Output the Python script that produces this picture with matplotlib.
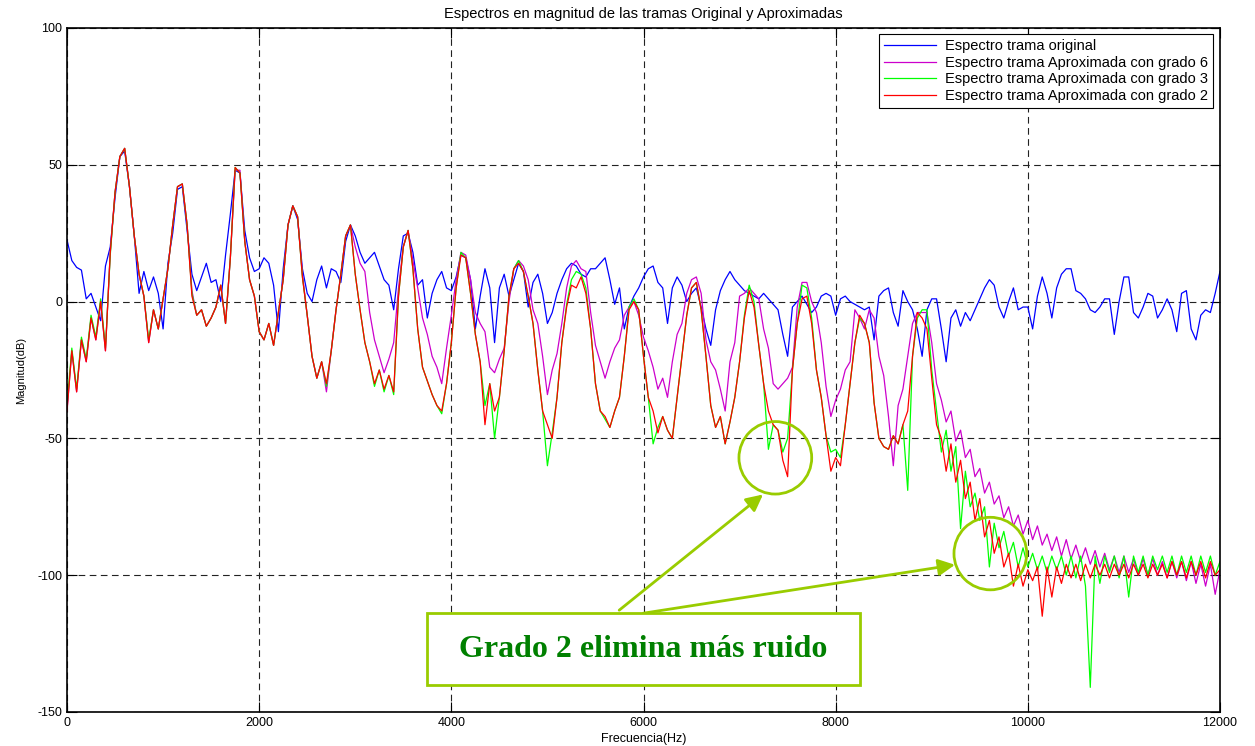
import numpy as np
import matplotlib
matplotlib.use("Agg")
from matplotlib import pyplot as plt
from matplotlib.patches import Ellipse, Rectangle

plt.rcParams['font.family'] = ['Liberation Sans', 'DejaVu Sans']
plt.rcParams['axes.unicode_minus'] = False

# frecuencias muestreadas cada 50 Hz (0 .. 12000)
frec = np.arange(0, 12001, 50)

# espectro trama original (dB)
orig_db = [22.5, 15, 12.5, 11.5, 1, 3, -2, -7, 13, 20,
           38, 53, 55, 42, 24, 3, 11, 4, 9, 3,
           -10, 14, 25, 41, 42, 26, 10, 4, 9, 14,
           7, 8, 0, 17, 32, 48, 47, 26, 16, 11,
           12, 16, 14, 6, -11, 12, 28, 35, 30, 12,
           3, 0, 8, 13, 5, 12, 11, 7, 22, 28,
           24, 18, 14, 16, 18, 13, 8, 6, -3, 12,
           24, 25, 18, 6, 8, -6, 3, 8, 11, 5,
           4, 9, 17, 16, 8, -10, 2, 12, 5, -15,
           5, 10, 2, 8, 14, 11, -2, 7, 10, 3,
           -8, -4, 3, 8, 12, 14, 13, 10, 9, 12,
           12, 14, 16, 8, -1, 5, -10, -2, 2, 5,
           9, 12, 13, 7, 5, -8, 5, 9, 6, 0,
           3, 5, -2, -10, -16, -3, 4, 8, 11, 8,
           6, 4, 3, 2, 1, 3, 1, -1, -3, -12,
           -20, -2, 0, 2, -1, -4, -2, 2, 3, 2,
           -5, 1, 2, 0, -1, -2, -3, -2, -14, 2,
           4, 5, -4, -9, 4, 0, -3, -10, -20, -3,
           1, 1, -10, -22, -6, -3, -9, -4, -7, -3,
           1, 5, 8, 6, -2, -6, 0, 5, -3, -2,
           -2, -10, 2, 9, 3, -6, 5, 10, 12, 12,
           4, 3, 1, -3, -4, -2, 1, 1, -12, 0,
           9, 9, -4, -6, -2, 3, 2, -6, -3, 1,
           -3, -11, 3, 4, -10, -14, -5, -3, -4, 3,
           11]

# aproximada con grado 6
g6_db = [-40, -18, -33, -14, -22, -6, -14, 0, -18, 18,
         40, 53, 56, 42, 24, 10, 2, -15, -3, -10,
         1, 12, 28, 42, 43, 28, 4, -5, -3, -9,
         -6, -2, 6, -8, 16, 48, 48, 22, 8, 2,
         -11, -14, -8, -16, -4, 8, 28, 35, 31, 10,
         -5, -20, -28, -22, -33, -18, -3, 10, 24, 28,
         20, 14, 11, -4, -14, -20, -26, -21, -15, 5,
         20, 26, 15, 5, -6, -12, -20, -24, -30, -17,
         -5, 8, 18, 17, 8, -4, -8, -11, -24, -26,
         -21, -17, 0, 12, 15, 13, 8, -3, -8, -20,
         -34, -25, -19, -8, 5, 13, 15, 12, 11, -4,
         -16, -22, -28, -22, -17, -14, -5, -2, 0, -5,
         -13, -18, -24, -32, -28, -35, -22, -12, -8, 3,
         8, 9, 3, -14, -22, -25, -32, -40, -22, -15,
         2, 3, 5, 3, 1, -10, -17, -30, -32, -30,
         -28, -24, -2, 7, 7, 0, -4, -15, -31, -42,
         -36, -32, -25, -22, -3, -6, -10, -3, -6, -20,
         -27, -42, -60, -38, -32, -20, -8, -4, -4, -4,
         -15, -30, -36, -44, -40, -51, -47, -57, -54, -64,
         -61, -70, -66, -74, -71, -79, -75, -82, -78, -85,
         -80, -87, -82, -89, -85, -91, -86, -93, -87, -94,
         -89, -95, -90, -96, -91, -97, -92, -98, -93, -99,
         -93, -99, -94, -100, -94, -100, -94, -100, -95, -101,
         -95, -101, -95, -102, -95, -103, -96, -104, -96, -107,
         -98]

# aproximada con grado 3
g3_db = [-38, -17, -32, -13, -21, -5, -13, 1, -17, 17,
         40, 53, 56, 42, 24, 10, 2, -14, -3, -10,
         1, 12, 28, 42, 43, 28, 3, -5, -3, -9,
         -6, -2, 6, -8, 16, 49, 47, 22, 8, 2,
         -11, -14, -8, -16, -4, 8, 28, 35, 31, 9,
         -5, -20, -28, -22, -31, -18, -3, 10, 24, 28,
         10, -3, -15, -22, -31, -25, -33, -27, -34, 2,
         20, 26, 12, -10, -24, -29, -34, -38, -41, -30,
         -15, 5, 18, 16, 3, -12, -22, -38, -30, -50,
         -35, -18, 2, 12, 15, 11, 2, -8, -25, -40,
         -60, -48, -35, -15, -1, 8, 11, 10, 5, -10,
         -30, -40, -43, -46, -40, -35, -20, -2, 1, -3,
         -20, -35, -52, -46, -42, -47, -50, -35, -20, -5,
         5, 7, -3, -20, -38, -46, -42, -52, -44, -35,
         -22, -5, 6, 0, -16, -30, -54, -45, -47, -55,
         -50, -25, -8, 6, 5, -6, -25, -35, -49, -55,
         -54, -57, -45, -30, -15, -6, -8, -15, -37, -50,
         -53, -54, -49, -52, -45, -69, -20, -6, -3, -3,
         -25, -40, -55, -47, -62, -53, -83, -62, -75, -70,
         -80, -75, -97, -81, -90, -84, -93, -88, -97, -90,
         -97, -92, -98, -93, -99, -93, -98, -93, -100, -93,
         -101, -93, -104, -141, -93, -103, -93, -99, -93, -101,
         -93, -108, -93, -99, -93, -100, -93, -98, -93, -99,
         -93, -100, -93, -99, -93, -100, -93, -99, -93, -100,
         -95]

# aproximada con grado 2
g2_db = [-40, -18, -33, -14, -22, -6, -14, 0, -18, 18,
         40, 53, 56, 42, 24, 10, 2, -15, -3, -10,
         1, 12, 28, 42, 43, 28, 2, -5, -3, -9,
         -6, -2, 6, -8, 16, 49, 47, 22, 8, 2,
         -11, -14, -8, -16, -4, 8, 28, 35, 31, 9,
         -5, -20, -28, -22, -30, -18, -3, 10, 24, 28,
         10, -3, -15, -22, -30, -25, -32, -27, -33, 2,
         20, 26, 12, -10, -24, -29, -34, -38, -40, -30,
         -15, 5, 17, 16, 3, -12, -22, -45, -30, -40,
         -35, -18, 2, 12, 14, 11, 2, -8, -25, -40,
         -45, -50, -35, -15, -2, 6, 5, 9, 3, -10,
         -30, -40, -42, -46, -40, -35, -20, -3, 0, -3,
         -20, -35, -40, -48, -42, -47, -50, -35, -20, -5,
         5, 7, -3, -20, -38, -46, -42, -52, -44, -35,
         -22, -6, 4, -2, -16, -30, -40, -45, -47, -58,
         -64, -25, -8, 1, 2, -8, -25, -35, -49, -62,
         -57, -60, -45, -30, -15, -5, -8, -15, -37, -50,
         -53, -54, -49, -52, -45, -40, -20, -4, -6, -10,
         -28, -45, -50, -62, -52, -66, -58, -72, -66, -80,
         -72, -86, -80, -92, -86, -97, -92, -104, -96, -104,
         -98, -102, -97, -115, -97, -108, -97, -103, -96, -101,
         -96, -102, -96, -101, -96, -100, -96, -101, -96, -100,
         -96, -101, -96, -100, -96, -101, -96, -100, -96, -101,
         -95, -100, -95, -101, -95, -100, -95, -101, -95, -100,
         -98]

lime = '#99cc00'

fig = plt.figure(figsize=(12.55, 7.46), dpi=100)
ax = fig.add_axes([0.0534, 0.0456, 0.9187, 0.9169])

ax.plot(frec, orig_db, color='#0000ff', lw=0.9, label='Espectro trama original')
ax.plot(frec, g6_db, color='#cc00cc', lw=0.9, label='Espectro trama Aproximada con grado 6')
ax.plot(frec, g3_db, color='#00ff00', lw=0.9, label='Espectro trama Aproximada con grado 3')
ax.plot(frec, g2_db, color='#ff0000', lw=0.9, label='Espectro trama Aproximada con grado 2')

ax.set_xlim(0, 12000)
ax.set_ylim(-150, 100)
ax.set_xticks(np.arange(0, 12001, 2000))
ax.set_yticks([-150, -100, -50, 0, 50, 100])
ax.grid(True, color='#222222', linestyle=(0, (6, 4)), lw=0.8)
ax.set_axisbelow(True)
ax.tick_params(direction='in', top=True, right=True, length=7, labelsize=9, width=0.8)
for sp in ax.spines.values():
    sp.set_linewidth(1.2)

ax.set_title('Espectros en magnitud de las tramas Original y Aproximadas', fontsize=10.5, pad=7)
ax.set_xlabel('Frecuencia(Hz)', fontsize=9, labelpad=3)
ax.set_ylabel('Magnitud(dB)', fontsize=8, labelpad=8)

leg = ax.legend(loc='upper right', bbox_to_anchor=(0.994, 0.991), borderaxespad=0,
                fancybox=False, edgecolor='black', framealpha=1, fontsize=10.5,
                handlelength=3.6, handletextpad=0.6, labelspacing=0.18, borderpad=0.35)
leg.get_frame().set_linewidth(0.8)

# anotaciones
ax.add_patch(Ellipse((7372, -57.1), 757, 26.5, fill=False, edgecolor=lime, lw=2, zorder=5))
ax.add_patch(Ellipse((9610, -92.1), 757, 26.5, fill=False, edgecolor=lime, lw=2, zorder=5))
ax.annotate('', xy=(7244, -70.5), xytext=(5747, -112.8),
            arrowprops=dict(arrowstyle='-|>', color=lime, lw=2, mutation_scale=25,
                            shrinkA=0, shrinkB=0), zorder=5)
ax.annotate('', xy=(9242, -96.2), xytext=(5998, -113.9),
            arrowprops=dict(arrowstyle='-|>', color=lime, lw=2, mutation_scale=25,
                            shrinkA=0, shrinkB=0), zorder=5)
ax.add_patch(Rectangle((3747, -140.1), 4507, 26.3, facecolor='white', edgecolor=lime,
                       lw=2, zorder=6))
ax.text(6000, -127, 'Grado 2 elimina más ruido', ha='center', va='center',
        fontsize=23, fontweight='bold', color='#008000', family='Liberation Serif', zorder=7)

fig.savefig('out.png', dpi=100)
